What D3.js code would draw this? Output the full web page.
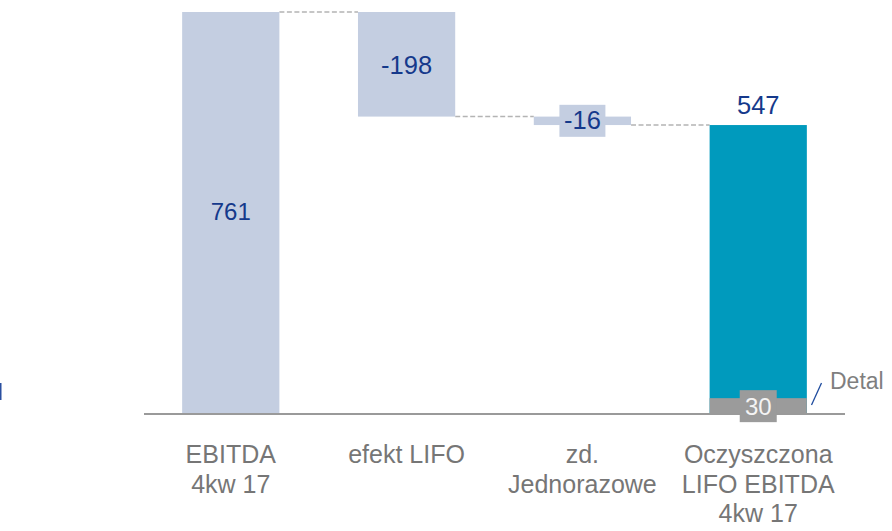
<!DOCTYPE html>
<html>
<head>
<meta charset="utf-8">
<script src="https://cdn.jsdelivr.net/npm/d3@7/dist/d3.min.js"></script>
<style>
  body { margin: 0; background: #fff; }
  svg { display: block; font-family: "Liberation Sans", Arial, sans-serif; }
</style>
</head>
<body>
<svg id="chart" width="892" height="531"></svg>
<script>
// waterfall data
const categories = [
  ['EBITDA', '4kw 17'],
  ['efekt LIFO'],
  ['zd.', 'Jednorazowe'],
  ['Oczyszczona', 'LIFO EBITDA', '4kw 17']
];
const values = [761, -198, -16, 547];
const kinds = ['total', 'delta', 'delta', 'total'];
const detalValue = 30;
const detalLabel = 'Detal';

const conf = {
  lightFill: '#c4cee1',
  tealFill: '#009abd',
  greyFill: '#9b9b9b',
  valueColor: '#15398b',
  catColor: '#767676',
  axisColor: '#9a9a9a',
  connColor: '#b4b4b4'
};

const svg = d3.select('#chart');

// build bar extents
let running = 0;
const bars = values.map((v, i) => {
  let y0, y1;
  if (kinds[i] === 'total') {
    y0 = 0;
    y1 = v;
    running = v;
  } else {
    y0 = running;
    y1 = running + v;
    running = y1;
  }
  return { i: i, value: v, kind: kinds[i], lo: Math.min(y0, y1), hi: Math.max(y0, y1), end: y1 };
});

const x = d3.scaleBand()
  .domain(d3.range(categories.length))
  .range([144, 845])
  .paddingInner(0.447)
  .paddingOuter(0.217);

const y = d3.scaleLinear()
  .domain([0, 761])
  .range([414, 12]);

// connectors
for (let i = 0; i < bars.length - 1; i++) {
  const lvl = bars[i].end;
  svg.append('line')
    .attr('x1', x(i) + x.bandwidth())
    .attr('x2', x(i + 1))
    .attr('y1', y(lvl))
    .attr('y2', y(lvl))
    .attr('stroke', conf.connColor)
    .attr('stroke-width', 1.5)
    .attr('stroke-dasharray', '5,2.5');
}

// bars
svg.selectAll('rect.bar')
  .data(bars)
  .enter()
  .append('rect')
  .attr('class', 'bar')
  .attr('x', d => x(d.i))
  .attr('width', x.bandwidth())
  .attr('y', d => y(d.hi))
  .attr('height', d => y(d.lo) - y(d.hi))
  .attr('fill', d => (d.i === bars.length - 1 ? conf.tealFill : conf.lightFill));

// detal part of last bar
const last = bars[bars.length - 1];
svg.append('rect')
  .attr('x', x(last.i))
  .attr('width', x.bandwidth())
  .attr('y', y(detalValue))
  .attr('height', y(0) - y(detalValue))
  .attr('fill', conf.greyFill);

// axis line
svg.append('line')
  .attr('x1', 144)
  .attr('x2', 845)
  .attr('y1', y(0))
  .attr('y2', y(0))
  .attr('stroke', conf.axisColor)
  .attr('stroke-width', 2);

// value labels
const cx = i => x(i) + x.bandwidth() / 2;

bars.forEach(d => {
  const mid = (y(d.lo) + y(d.hi)) / 2;
  if (d.i === 0) {
    svg.append('text')
      .attr('x', cx(d.i))
      .attr('y', mid + 7)
      .attr('text-anchor', 'middle')
      .attr('font-size', 24)
      .attr('fill', conf.valueColor)
      .text(d.value);
  } else if (d.i === 1) {
    svg.append('text')
      .attr('x', cx(d.i))
      .attr('y', mid + 9.5)
      .attr('text-anchor', 'middle')
      .attr('font-size', 25.5)
      .attr('fill', conf.valueColor)
      .text(d.value);
  } else if (d.i === 2) {
    // small bar: label sits on its own box in bar colour
    const g = svg.append('g');
    g.append('rect')
      .attr('x', cx(d.i) - 23)
      .attr('y', mid - 16)
      .attr('width', 46)
      .attr('height', 32)
      .attr('fill', conf.lightFill);
    g.append('text')
      .attr('x', cx(d.i))
      .attr('y', mid + 8.5)
      .attr('text-anchor', 'middle')
      .attr('font-size', 25.5)
      .attr('fill', conf.valueColor)
      .text(d.value);
  } else {
    svg.append('text')
      .attr('x', cx(d.i))
      .attr('y', y(d.hi) - 11)
      .attr('text-anchor', 'middle')
      .attr('font-size', 25.5)
      .attr('fill', conf.valueColor)
      .text(d.value);
  }
});

// detal label box
svg.append('rect')
  .attr('x', cx(last.i) - 18.5)
  .attr('y', y(detalValue) - 8)
  .attr('width', 37)
  .attr('height', 32)
  .attr('fill', conf.greyFill);
svg.append('text')
  .attr('x', cx(last.i))
  .attr('y', y(detalValue) + 17)
  .attr('text-anchor', 'middle')
  .attr('font-size', 24)
  .attr('fill', '#f4f4f4')
  .text(detalValue);

// leader + Detal text
svg.append('line')
  .attr('x1', 811.5)
  .attr('y1', 405)
  .attr('x2', 821.5)
  .attr('y2', 383)
  .attr('stroke', '#1f4c9e')
  .attr('stroke-width', 1.3);
svg.append('text')
  .attr('x', 830)
  .attr('y', 389)
  .attr('font-size', 23)
  .attr('fill', '#7f7f7f')
  .text(detalLabel);

// stray marker on the left edge
svg.append('rect')
  .attr('x', 0)
  .attr('y', 383)
  .attr('width', 1.5)
  .attr('height', 17)
  .attr('fill', '#2a4fa0');

// category labels
categories.forEach((lines, i) => {
  const t = svg.append('text')
    .attr('text-anchor', 'middle')
    .attr('font-size', 25)
    .attr('fill', conf.catColor);
  lines.forEach((s, k) => {
    t.append('tspan')
      .attr('x', cx(i))
      .attr('y', 463 + k * 29.5)
      .text(s);
  });
});
</script>
</body>
</html>
